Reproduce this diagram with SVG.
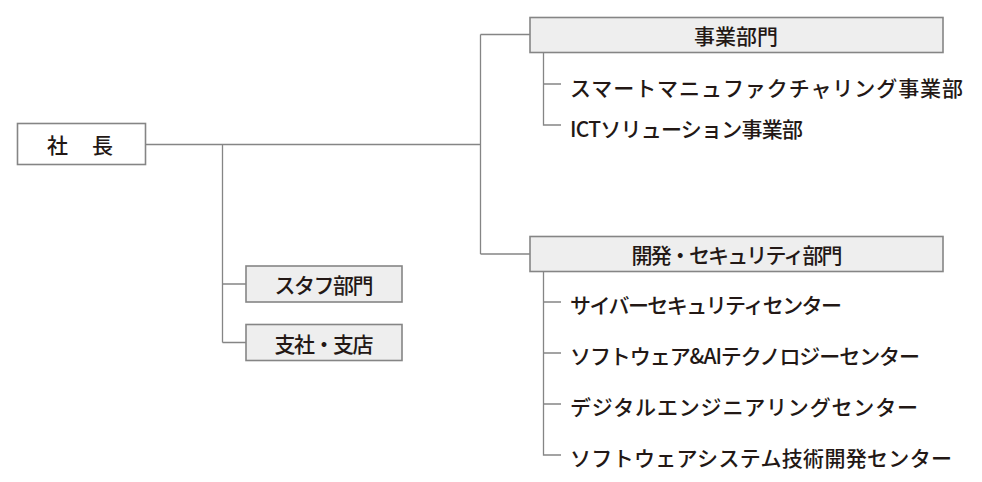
<svg xmlns="http://www.w3.org/2000/svg" width="982" height="482" viewBox="0 0 982 482">
<style>
.ln{fill:none;stroke:#858585;stroke-width:1.3}
.box{fill:#ffffff;stroke:#858585;stroke-width:1.6}
.gbox{fill:#eeeeee;stroke:#858585;stroke-width:1.6}
text{font-family:"Noto Sans CJK JP","Noto Sans",sans-serif;font-size:21px;font-weight:500;fill:#231815;dominant-baseline:central}
.c{text-anchor:middle}
</style>
<rect width="982" height="482" fill="#ffffff"/>
<g id="connectors">
<path class="ln" d="M145.5,144.5 H480.5 M480.5,34.5 V254 M480.5,34.5 H530 M480.5,254 H530 M222.5,144.5 V342.5 M222.5,284 H246 M222.5,342.5 H246"/>
<path class="ln" d="M543.5,53 V125 H561 M543.5,84 H561"/>
<path class="ln" d="M543.5,272 V455 H561 M543.5,302 H561 M543.5,353 H561 M543.5,404 H561"/>
</g>
<g id="president">
<rect class="box" x="17.5" y="123.5" width="128" height="41"/>
<text x="47" y="144" textLength="66">社　長</text>
</g>
<g id="business">
<rect class="gbox" x="530" y="17.5" width="413" height="35"/>
<text class="c" x="736" y="35">事業部門</text>
</g>
<g id="smart"><text x="570" y="87" textLength="393">スマートマニュファクチャリング事業部</text></g>
<g id="ict"><text x="570" y="128" textLength="233">ICTソリューション事業部</text></g>
<g id="devsec">
<rect class="gbox" x="530" y="236.5" width="413" height="35"/>
<text class="c" x="737" y="254" textLength="211">開発・セキュリティ部門</text>
</g>
<g id="cyber"><text x="570" y="304" textLength="272">サイバーセキュリティセンター</text></g>
<g id="swai"><text x="570" y="355" textLength="350">ソフトウェア&amp;AIテクノロジーセンター</text></g>
<g id="digital"><text x="570" y="406" textLength="348">デジタルエンジニアリングセンター</text></g>
<g id="swsys"><text x="570" y="457" textLength="382">ソフトウェアシステム技術開発センター</text></g>
<g id="staff">
<rect class="gbox" x="246" y="266" width="156" height="36"/>
<text class="c" x="324" y="284" textLength="99">スタフ部門</text>
</g>
<g id="branch">
<rect class="gbox" x="246" y="324.5" width="156" height="36"/>
<text class="c" x="324" y="342.5" textLength="99">支社・支店</text>
</g>
</svg>
